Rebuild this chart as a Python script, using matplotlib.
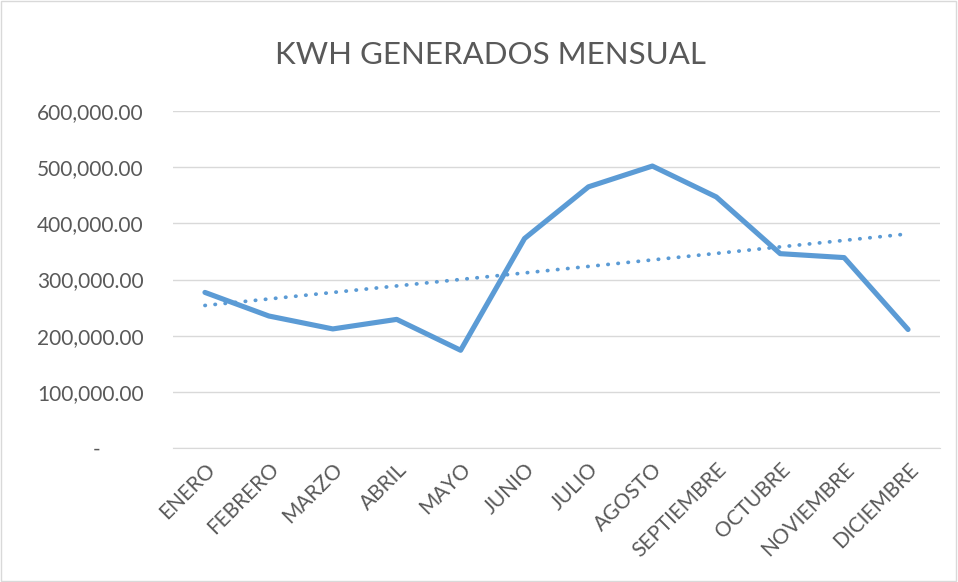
import numpy as np
import matplotlib
matplotlib.use('Agg')
import matplotlib.pyplot as plt
from matplotlib.ticker import FuncFormatter

# datos
meses = ['ENERO', 'FEBRERO', 'MARZO', 'ABRIL', 'MAYO', 'JUNIO', 'JULIO',
         'AGOSTO', 'SEPTIEMBRE', 'OCTUBRE', 'NOVIEMBRE', 'DICIEMBRE']
kwh = [277000, 235000, 212000, 229000, 174000, 373000, 465000,
       502000, 447000, 346000, 339000, 211000]
y_ticks = [0, 100000, 200000, 300000, 400000, 500000, 600000]

plt.rcParams['font.family'] = ['Lato', 'DejaVu Sans']

azul = '#5B9BD5'
gris = '#595959'

fig = plt.figure(figsize=(9.58, 5.82), dpi=100)
ax = fig.add_axes([173 / 958, 1 - 448 / 582, (940 - 173) / 958, (448 - 111) / 582])

x = np.arange(len(meses))
ax.plot(x, kwh, color=azul, linewidth=3.7, solid_joinstyle='round',
        solid_capstyle='round', zorder=3)

# línea de tendencia lineal (como en Excel)
a, b = np.polyfit(x + 1, kwh, 1)
ax.plot(x, a * (x + 1) + b, color=azul, linewidth=2.7,
        linestyle=(0, (0.1, 2.6)), dash_capstyle='round', zorder=3)

ax.set_xlim(-0.5, len(meses) - 0.5)
ax.set_ylim(0, 600000)
ax.set_yticks(y_ticks)
ax.yaxis.set_major_formatter(FuncFormatter(lambda v, p: '-        ' if v == 0 else f'{v:,.2f}'))
ax.set_xticks(x)
ax.set_xticklabels(meses, rotation=45, ha='right', rotation_mode='anchor')

ax.grid(axis='y', color='#D9D9D9', linewidth=1.0)
ax.set_axisbelow(True)
for s in ['top', 'right', 'left']:
    ax.spines[s].set_visible(False)
ax.spines['bottom'].set_color('#D9D9D9')
ax.tick_params(axis='both', length=0, colors=gris, labelsize=15)
ax.tick_params(axis='y', pad=21)
ax.tick_params(axis='x', pad=8)

fig.text(0.512, 1 - 55 / 582, 'KWH GENERADOS MENSUAL', ha='center', va='center',
         fontsize=22.5, color=gris)

# borde del área del gráfico
fig.add_artist(plt.Rectangle((0.001, 0.002), 0.997, 0.996, transform=fig.transFigure,
                             fill=False, edgecolor='#D9D9D9', linewidth=1))

fig.savefig('out.png', dpi=100)
